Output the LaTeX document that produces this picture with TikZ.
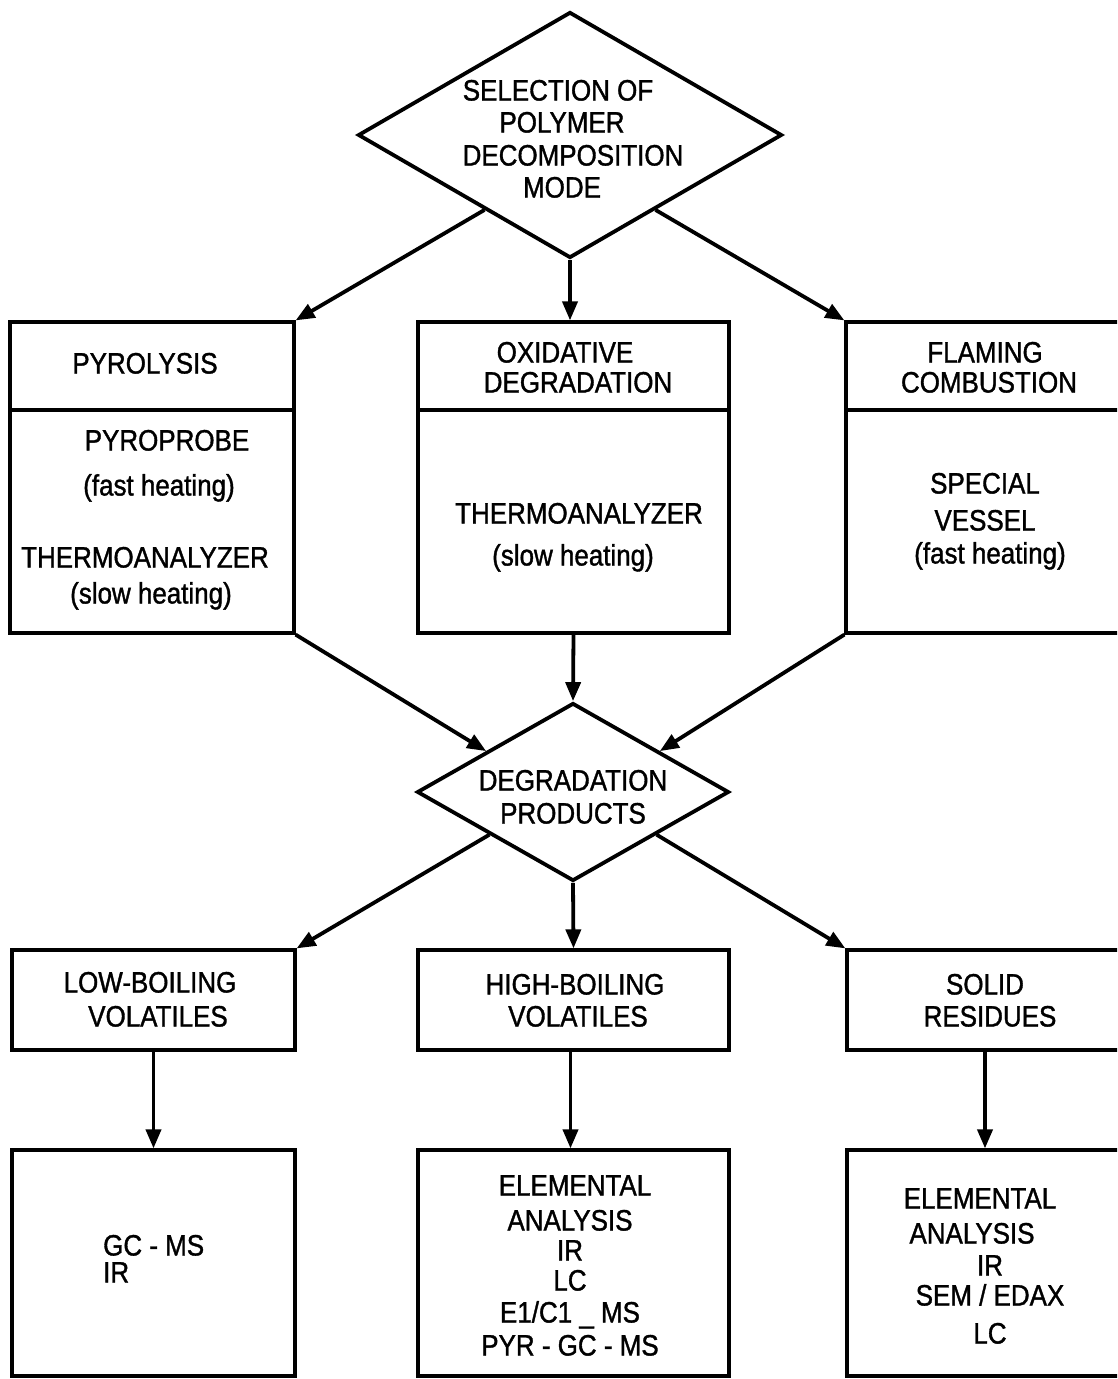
\documentclass[tikz,border=0pt]{standalone}
\usepackage{fontspec}
\setmainfont{Liberation Sans}[FakeStretch=0.88,FakeBold=1.2]
\usetikzlibrary{shapes.geometric,arrows.meta,calc}
\begin{document}
\begin{tikzpicture}[x=1pt,y=-1pt,
  every node/.style={font=\fontsize{29.5}{34}\selectfont},
  box/.style={draw,line width=3.2pt,rectangle,inner sep=0pt},
  boxline/.style={line width=3.2pt},
  dia/.style={draw,line width=3.8pt,diamond,inner sep=0pt},
  lbl/.style={inner sep=0pt,text height=21pt,text depth=0pt},
  arr/.style={line width=3.8pt,-{Triangle[length=19pt,width=15pt]}}]
\useasboundingbox (0,0) rectangle (1117,1379);
\clip (0,0) rectangle (1117,1379);

% top decision
\node[dia,minimum width=424pt,minimum height=246pt] (sel) at (570,135) {};
\node[lbl] (sel1) at (558,90) {SELECTION OF};
\node[lbl] (sel2) at (562,122) {POLYMER};
\node[lbl] (sel3) at (573,155) {DECOMPOSITION};
\node[lbl] (sel4) at (562,187) {MODE};

% decomposition mode boxes
\node[box,minimum width=284pt,minimum height=311pt] (pyr) at (152,477.5) {};
\node[box,minimum width=311pt,minimum height=311pt] (oxi) at (573.5,477.5) {};
\node[box,minimum width=300pt,minimum height=311pt] (flm) at (996,477.5) {};
\draw[boxline] (pyr.west |- 0,410) -- (pyr.east |- 0,410);
\draw[boxline] (oxi.west |- 0,410) -- (oxi.east |- 0,410);
\draw[boxline] (flm.west |- 0,410) -- (flm.east |- 0,410);

\node[lbl] (pyrt) at (145,363) {PYROLYSIS};
\node[lbl] (pyr1) at (167,440) {PYROPROBE};
\node[lbl] (pyr2) at (159,485) {(fast heating)};
\node[lbl] (pyr3) at (145,557) {THERMOANALYZER};
\node[lbl] (pyr4) at (151,593) {(slow heating)};

\node[lbl] (oxit1) at (565,352) {OXIDATIVE};
\node[lbl] (oxit2) at (578,382) {DEGRADATION};
\node[lbl] (oxi1) at (579,513) {THERMOANALYZER};
\node[lbl] (oxi2) at (573,555) {(slow heating)};

\node[lbl] (flmt1) at (985,352) {FLAMING};
\node[lbl] (flmt2) at (989,382) {COMBUSTION};
\node[lbl] (flm1) at (985,483) {SPECIAL};
\node[lbl] (flm2) at (985,520) {VESSEL};
\node[lbl] (flm3) at (990,553) {(fast heating)};

% degradation products
\node[dia,minimum width=312pt,minimum height=178pt] (deg) at (573,792) {};
\node[lbl] (deg1) at (573,780) {DEGRADATION};
\node[lbl] (deg2) at (573,813) {PRODUCTS};

% product classes
\node[box,minimum width=283pt,minimum height=100pt] (low) at (153.5,1000) {};
\node[box,minimum width=311pt,minimum height=100pt] (high) at (573.5,1000) {};
\node[box,minimum width=300pt,minimum height=100pt] (sol) at (997,1000) {};
\node[lbl] (low1) at (150,982) {LOW-BOILING};
\node[lbl] (low2) at (158,1016) {VOLATILES};
\node[lbl] (high1) at (575,984) {HIGH-BOILING};
\node[lbl] (high2) at (578,1016) {VOLATILES};
\node[lbl] (sol1) at (985,984) {SOLID};
\node[lbl] (sol2) at (990,1016) {RESIDUES};

% analysis boxes
\node[box,minimum width=283pt,minimum height=226pt] (lowa) at (153.5,1263) {};
\node[box,minimum width=311pt,minimum height=226pt] (higha) at (573.5,1263) {};
\node[box,minimum width=300pt,minimum height=226pt] (sola) at (997,1263) {};

\node[lbl,anchor=west] (lowa1) at (103,1245) {GC - MS};
\node[lbl,anchor=west] (lowa2) at (103,1272) {IR};

\node[lbl] (ha1) at (575,1185) {ELEMENTAL};
\node[lbl] (ha2) at (570,1220) {ANALYSIS};
\node[lbl] (ha3) at (570,1250) {IR};
\node[lbl] (ha4) at (570,1280) {LC};
\node[lbl] (ha5) at (570,1312) {E1/C1 \_ MS};
\node[lbl] (ha6) at (570,1345) {PYR - GC - MS};

\node[lbl] (sa1) at (980,1198) {ELEMENTAL};
\node[lbl] (sa2) at (972,1233) {ANALYSIS};
\node[lbl] (sa3) at (990,1265) {IR};
\node[lbl] (sa4) at (990,1295) {SEM / EDAX};
\node[lbl] (sa5) at (990,1333) {LC};

% connectors
\draw[arr] ($(sel.west)!0.6!(sel.south)$) -- (pyr.north east);
\draw[arr] (sel.south) -- (sel.south |- oxi.north);
\draw[arr] ($(sel.east)!0.6!(sel.south)$) -- (flm.north west);

\draw[arr] (pyr.south east) -- ($(deg.west)!0.45!(deg.north)$);
\draw[arr] (oxi.south) -- (deg.north);
\draw[arr] (flm.south west) -- ($(deg.east)!0.45!(deg.north)$);

\draw[arr] ($(deg.west)!0.47!(deg.south)$) -- (low.north east);
\draw[arr] (deg.south) -- (high.north);
\draw[arr] ($(deg.east)!0.47!(deg.south)$) -- (sol.north west);

\draw[arr] (low.south) -- (lowa.north);
\draw[arr] ([xshift=-3pt]high.south) -- ([xshift=-3pt]higha.north);
\draw[arr] ([xshift=-12pt]sol.south) -- ([xshift=-12pt]sola.north);
\end{tikzpicture}
\end{document}
